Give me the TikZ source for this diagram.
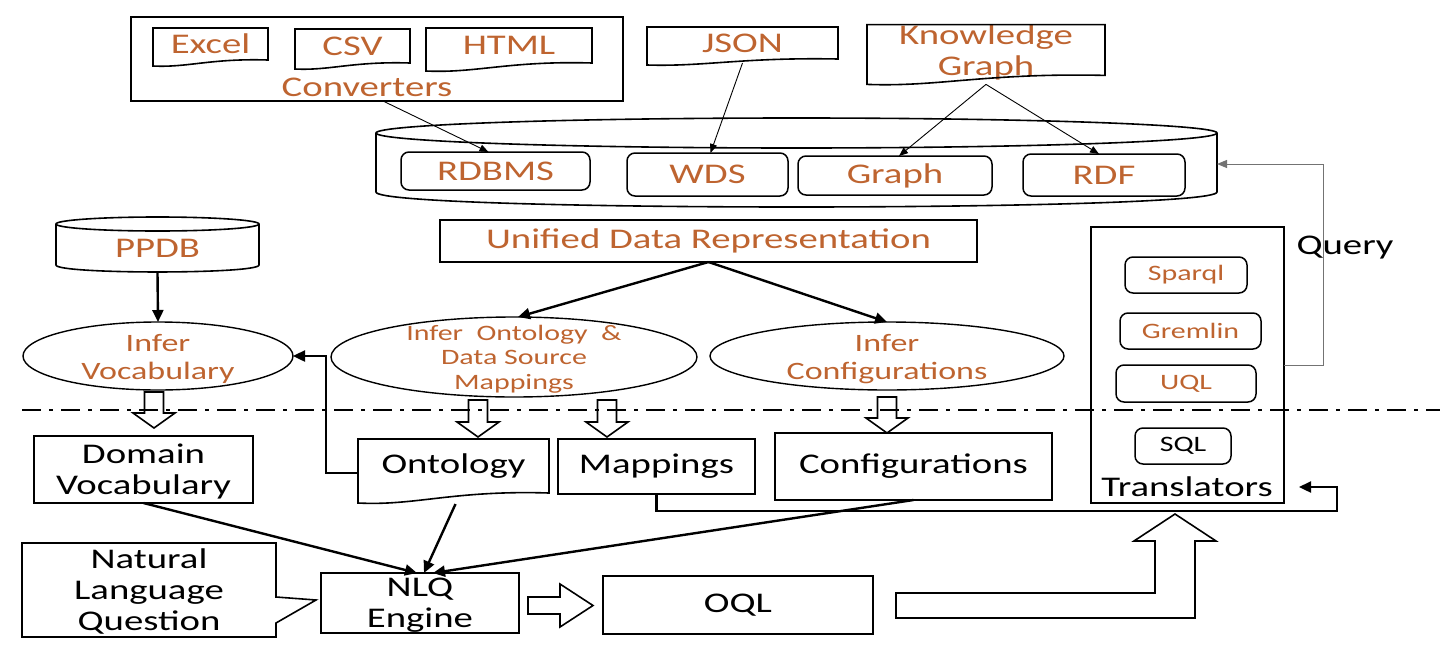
\documentclass[tikz,border=0pt]{standalone}
\usepackage{fontspec}
\setmainfont[FakeStretch=1.36]{Carlito}
\usetikzlibrary{arrows.meta,calc,shapes.geometric}
\definecolor{ortxt}{RGB}{190,100,48}
\tikzset{
  every node/.style={inner sep=0pt,outer sep=0pt,align=center},
  bigf/.style={font=\fontsize{28.5}{31}\selectfont},
  medf/.style={font=\fontsize{25}{28.5}\selectfont},
  smlf/.style={font=\fontsize{22}{24.5}\selectfont},
  org/.style={text=ortxt},
  ml/.style={text depth=0pt},
  blk/.style={draw,line width=1.7pt},
  rbox/.style={draw,line width=1.5pt,rounded corners=8pt},
  ell/.style={draw,ellipse,line width=1.4pt},
  docline/.style={line width=1.6pt},
  thinarr/.style={line width=0.9pt,-{Triangle[length=9pt,width=7pt]}},
  thickarr/.style={line width=2.4pt,-{Triangle[length=12pt,width=11pt]}},
  hollow/.style={draw,line width=1.6pt,fill=white,line join=miter},
  queryarr/.style={line width=1pt,draw=black!55,-{Triangle[length=10pt,width=8pt]}},
  dashdot/.style={line width=2.2pt,dash pattern=on 19pt off 8pt on 4pt off 8pt},
}
\newcommand\docwave[2]{\draw[docline] (#1.south east) .. controls ($(#1.south east)!0.5!(#1.south west)+(0,-0.3*#2)$) and ($(#1.south west)!0.3!(#1.south east)+(0,1.3*#2)$) .. ($(#1.south west)+(0,#2)$) -- (#1.north west) -- (#1.north east) -- cycle;}
\newcommand\hdown[2]{\draw[hollow] #1 ++(-9.5,0) -- ++(19,0) -- ++(0,#2-15) -- ++(11.5,0) -- ++(-21,15) -- ++(-21,-15) -- ++(11.5,0) -- cycle;}
\begin{document}
\begin{tikzpicture}[x=1pt,y=-1pt]
\useasboundingbox (0,0) rectangle (1448,648);

% ---------- sources ----------
\node[blk,line width=1.5pt,minimum width=492,minimum height=84] (conv) at (377,59) {};
\node[bigf,org] (convlbl) at (367,87) {Converters};
\node[bigf,org,minimum width=115,minimum height=32] (excel) at (210.5,44) {Excel};
\docwave{excel}{6}
\node[bigf,org,minimum width=115,minimum height=34] (csv) at (352.5,46) {CSV};
\docwave{csv}{6}
\node[bigf,org,minimum width=166,minimum height=35] (html) at (509,45.5) {HTML};
\docwave{html}{8}
\node[bigf,org,minimum width=191,minimum height=32] (json) at (742.5,43) {JSON};
\docwave{json}{6}
\node[bigf,org,ml,minimum width=238,minimum height=50] (kg) at (986,50) {Knowledge\\Graph};
\docwave{kg}{9}

% ---------- store cylinder ----------
\node[minimum width=841,minimum height=62] (store) at (796.5,164) {};
\draw[docline] (store.north) ellipse [x radius=420.5, y radius=15];
\draw[docline] (store.north west) -- ($(store.south west)+(0,-3)$) .. controls +(0,20) and +(0,20) .. ($(store.south east)+(0,-3)$) -- (store.north east);
\node[bigf,org,rbox,minimum width=189,minimum height=38] (rdbms) at (495.5,171) {RDBMS};
\node[bigf,org,rbox,minimum width=161,minimum height=43] (wds) at (707.5,174.5) {WDS};
\node[bigf,org,rbox,minimum width=194,minimum height=39] (graph) at (895,175.5) {Graph};
\node[bigf,org,rbox,minimum width=162,minimum height=42] (rdf) at (1104,175) {RDF};

\draw[thinarr] ($(conv.south)+(6,0)$) -- ($(rdbms.north)+(-7,0)$);
\draw[thinarr] ($(json.south)+(0,4)$) -- ($(wds.north)+(3,0)$);
\draw[thinarr] ($(kg.south)+(0,9)$) -- ($(graph.north)+(4,0)$);
\draw[thinarr] ($(kg.south)+(0,9)$) -- ($(rdf.north)+(-5,0)$);

% ---------- PPDB ----------
\node[bigf,org,minimum width=203,minimum height=48] (ppdb) at (157.5,248) {PPDB};
\draw[docline] (ppdb.north) ellipse [x radius=101.5, y radius=7];
\draw[docline] (ppdb.north west) -- ($(ppdb.south west)+(0,-7)$) .. controls +(0,9.3) and +(0,9.3) .. ($(ppdb.south east)+(0,-7)$) -- (ppdb.north east);

% ---------- unified / infer ----------
\node[bigf,org,blk,line width=1.5pt,minimum width=537,minimum height=42] (udr) at (708.5,241) {Unified Data Representation};
\node[ell,minimum width=270,minimum height=68] (ivoc) at (158,356) {};
\node[medf,org,ml] (ivoct) at (158,357) {Infer\\Vocabulary};
\node[ell,minimum width=366,minimum height=80] (iont) at (514,357) {};
\node[smlf,org,ml] (iontt) at (514,357) {Infer\ \ Ontology\ \ \&\\Data Source\\Mappings};
\node[ell,minimum width=354,minimum height=68] (iconf) at (887,356) {};
\node[medf,org,ml] (iconft) at (887,357) {Infer\\Configurations};

\draw[thickarr] (ppdb.south) -- (ivoc.north);
\draw[thickarr] (udr.south) -- ($(iont.north)+(4,0)$);
\draw[thickarr] (udr.south) -- (iconf.north);

% ---------- translators ----------
\node[blk,line width=1.5pt,minimum width=193,minimum height=276] (trans) at (1187.5,365) {};
\node[smlf,org,rbox,minimum width=122,minimum height=36] (sparql) at (1186,275) {Sparql};
\node[smlf,org,rbox,minimum width=141,minimum height=36] (gremlin) at (1190.5,331) {Gremlin};
\node[smlf,org,rbox,minimum width=140,minimum height=37] (uql) at (1186,383.5) {UQL};
\node[smlf,rbox,minimum width=96,minimum height=36] (sql) at (1183,446) {SQL};
\node[bigf] (translbl) at (1187,487) {Translators};
\node[bigf] (query) at (1345,248) {Query};
\draw[queryarr] (trans.east) -- ($(trans.east)+(39,0)$) |- (store.east);

% ---------- lower boxes ----------
\node[bigf,blk,ml,minimum width=219,minimum height=67] (domvoc) at (143.5,469.5) {Domain\\Vocabulary};
\node[bigf,minimum width=191,minimum height=54] (ont) at (453.5,466) {Ontology};
\docwave{ont}{10}
\node[bigf,blk,minimum width=197,minimum height=55] (map) at (656.5,466.5) {Mappings};
\node[bigf,blk,minimum width=277,minimum height=67] (conf) at (913.5,466.5) {Configurations};
\node[bigf,blk,ml,minimum width=198,minimum height=60] (nlq) at (420,603) {NLQ\\Engine};
\node[bigf,ml,minimum width=254,minimum height=94] (nlqq) at (149,590) {Natural\\Language\\Question};
\draw[docline] (nlqq.north west) -- (nlqq.north east) -- ($(nlqq.north east)+(0,54)$) -- ($(nlq.west)+(-5,-3)$) -- ($(nlqq.north east)+(0,80)$) -- (nlqq.south east) -- (nlqq.south west) -- cycle;
\node[bigf,blk,minimum width=270,minimum height=58] (oql) at (738,605) {OQL};

\draw[thickarr] ($(ont.west)+(0,7)$) -- ($(ont.west)+(-32,7)$) |- (ivoc.east);
\draw[thickarr] (map.south) -- ($(map.south)+(0,17)$) -| ($(trans.south east)+(53,-16)$) -- ($(trans.south east)+(15,-16)$);
\draw[thickarr] (domvoc.south) -- ($(nlq.north)+(-3,0)$);
\draw[thickarr] ($(ont.south)+(2,11)$) -- ($(nlq.north)+(4,0)$);
\draw[thickarr] (conf.south) -- ($(nlq.north)+(13,0)$);

% ---------- hollow arrows ----------
\hdown{($(ivoc.south)+(-4,2)$)}{36}
\hdown{($(iont.south)+(-36,3)$)}{37}
\hdown{($(iont.south)+(93,3)$)}{37}
\hdown{($(iconf.south)+(0,7)$)}{36}
\draw[hollow] ($(nlq.east)+(9,-6)$) -- ++(32,0) -- ++(0,-13) -- ++(33,21.5) -- ++(-33,21.5) -- ++(0,-13) -- ++(-32,0) -- cycle;
\draw[hollow] ($(oql.east)+(23,-12)$) -- ++(259,0) -- ++(0,-52) -- ++(-21,0) -- ++(41,-27) -- ++(41,27) -- ++(-21,0) -- ++(0,77) -- ++(-299,0) -- cycle;

% ---------- divider ----------
\draw[dashdot] (22,410) -- (1440,410);
\end{tikzpicture}
\end{document}
